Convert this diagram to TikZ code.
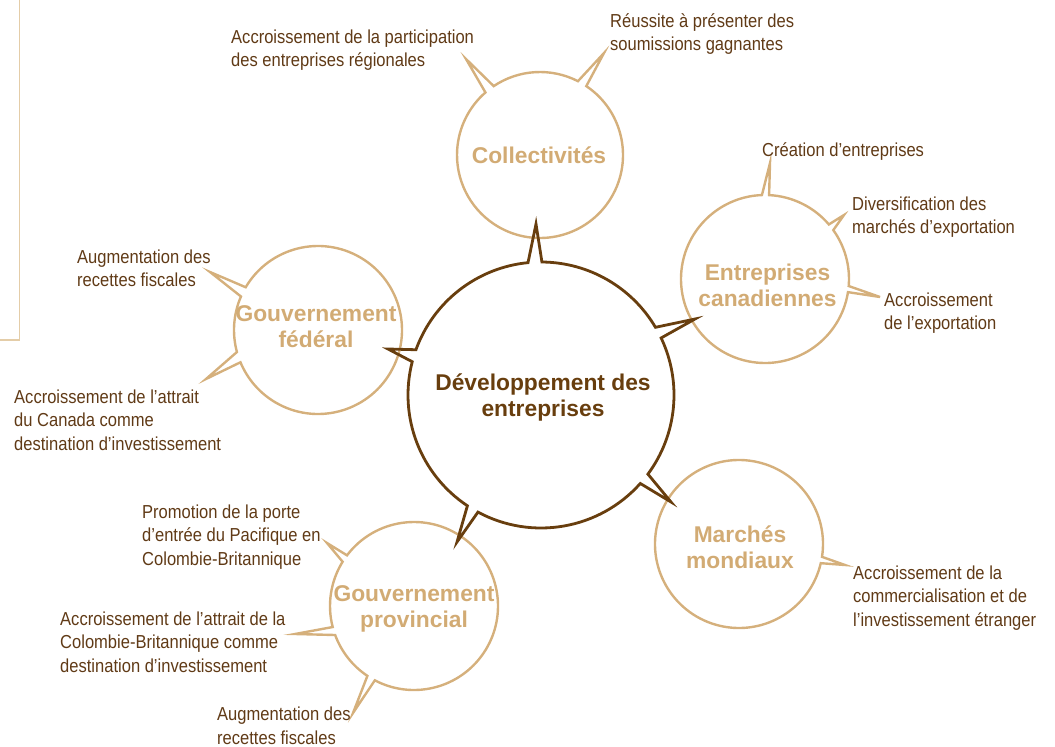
\documentclass[tikz,border=0pt]{standalone}
\usepackage{fontspec}
\setmainfont{Liberation Sans}
\newfontfamily\lblfont{Liberation Sans}[FakeStretch=0.88]
\definecolor{ctan}{RGB}{213,176,124}
\definecolor{ctantext}{RGB}{210,171,116}
\definecolor{cdark}{RGB}{104,62,14}
\definecolor{clbl}{RGB}{96,58,22}
\definecolor{cframe}{RGB}{228,205,168}
\begin{document}
\begin{tikzpicture}[x=1pt,y=-1pt,
  outerbub/.style={draw=ctan, line width=2.4pt},
  innerbub/.style={draw=cdark, line width=2.8pt},
  framel/.style={draw=cframe, line width=1.5pt},
  lbl/.style={anchor=north west, inner sep=0pt, align=left, text=clbl,
    font=\lblfont\fontsize{18.8}{23.6}\selectfont},
  ttl/.style={anchor=north, inner sep=0pt, align=center, text=ctantext,
    font=\bfseries\fontsize{22.8}{26}\selectfont},
  cttl/.style={ttl, text=cdark}]
\useasboundingbox (0,0) rectangle (1055,747);

% left frame line
\coordinate (f1) at (19.5,0);
\coordinate (f2) at (19.5,340);
\coordinate (f3) at (0,340);
\draw[framel] (f1) -- (f2) -- (f3);

% Collectivites (540,155) r=83
\draw[outerbub] ({540+83*cos(303.9)},{155+83*sin(303.9)})
  arc[start angle=303.9,end angle=588.9,radius=83] -- (466,59)
  -- ({540+83*cos(236.1)},{155+83*sin(236.1)})
  arc[start angle=236.1,end angle=297.2,radius=83] -- (604,53) -- cycle;

% Entreprises canadiennes (765,279) r=84
\draw[outerbub] ({765+84*cos(9.0)},{279+84*sin(9.0)})
  arc[start angle=9.0,end angle=267.9,radius=84] -- (770,163)
  -- ({765+84*cos(272.8)},{279+84*sin(272.8)})
  arc[start angle=272.8,end angle=319.5,radius=84] -- (844,215)
  -- ({765+84*cos(324.4)},{279+84*sin(324.4)})
  arc[start angle=324.4,end angle=364.8,radius=84] -- (880,297) -- cycle;

% Gouvernement federal (318,330) r=84
\draw[outerbub] ({318+84*cos(210.6)},{330+84*sin(210.6)})
  arc[start angle=210.6,end angle=517.4,radius=84] -- (206,379)
  -- ({318+84*cos(164.8)},{330+84*sin(164.8)})
  arc[start angle=164.8,end angle=203.5,radius=84] -- (210,272) -- cycle;

% Gouvernement provincial (414,606) r=84
\draw[outerbub] ({414+84*cos(217.1)},{606+84*sin(217.1)})
  arc[start angle=217.1,end angle=477.8,radius=84] -- (353,713)
  -- ({414+84*cos(123.7)},{606+84*sin(123.7)})
  arc[start angle=123.7,end angle=159.8,radius=84] -- (295,634)
  -- ({414+84*cos(165.5)},{606+84*sin(165.5)})
  arc[start angle=165.5,end angle=211.8,radius=84] -- (327,543) -- cycle;

% Marches mondiaux (739,544) r=84
\draw[outerbub] ({739+84*cos(13.2)},{544+84*sin(13.2)})
  arc[start angle=13.2,end angle=368.8,radius=84] -- (845,565) -- cycle;

% Central (541,395) r=133
\draw[innerbub] ({541+133*cos(41.7)},{395+133*sin(41.7)})
  arc[start angle=41.7,end angle=118.3,radius=133] -- (457,542)
  -- ({541+133*cos(123.6)},{395+133*sin(123.6)})
  arc[start angle=123.6,end angle=194.5,radius=133] -- (388,349)
  -- ({541+133*cos(199.9)},{395+133*sin(199.9)})
  arc[start angle=199.9,end angle=264.4,radius=133] -- (536,224)
  -- ({541+133*cos(270.4)},{395+133*sin(270.4)})
  arc[start angle=270.4,end angle=329.4,radius=133] -- (695,319)
  -- ({541+133*cos(334.6)},{395+133*sin(334.6)})
  arc[start angle=334.6,end angle=396.5,radius=133] -- (671,502) -- cycle;

% titles
\node[cttl] (tc) at (543,371.8) {\strut Développement des\\entreprises};
\node[ttl] (t1) at (539,144.8) {\strut Collectivités};
\node[ttl] (t2) at (767.5,261.8) {\strut Entreprises\\canadiennes};
\node[ttl] (t3) at (316,303.5) {\strut Gouvernement\\fédéral};
\node[ttl] (t4) at (414,583.5) {\strut Gouvernement\\provincial};
\node[ttl] (t5) at (740,524.5) {\strut Marchés\\mondiaux};

% labels (baseline - 16.5)
\node[lbl] (l1) at (231,26.5) {\strut Accroissement de la participation\\des entreprises régionales};
\node[lbl] (l2) at (610,10.5) {\strut Réussite à présenter des\\soumissions gagnantes};
\node[lbl] (l3) at (762,139.5) {\strut Création d’entreprises};
\node[lbl] (l4) at (852,193.5) {\strut Diversification des\\marchés d’exportation};
\node[lbl] (l5) at (884,289.5) {\strut Accroissement\\de l’exportation};
\node[lbl] (l6) at (77,246.5) {\strut Augmentation des\\recettes fiscales};
\node[lbl] (l7) at (14,386.5) {\strut Accroissement de l’attrait\\du Canada comme\\destination d’investissement};
\node[lbl] (l8) at (142,501.5) {\strut Promotion de la porte\\d’entrée du Pacifique en\\Colombie-Britannique};
\node[lbl] (l9) at (60,608.5) {\strut Accroissement de l’attrait de la\\Colombie-Britannique comme\\destination d’investissement};
\node[lbl] (l10) at (217,704) {\strut Augmentation des\\recettes fiscales};
\node[lbl] (l11) at (853,562.5) {\strut Accroissement de la\\commercialisation et de\\l’investissement étranger};
\end{tikzpicture}
\end{document}
